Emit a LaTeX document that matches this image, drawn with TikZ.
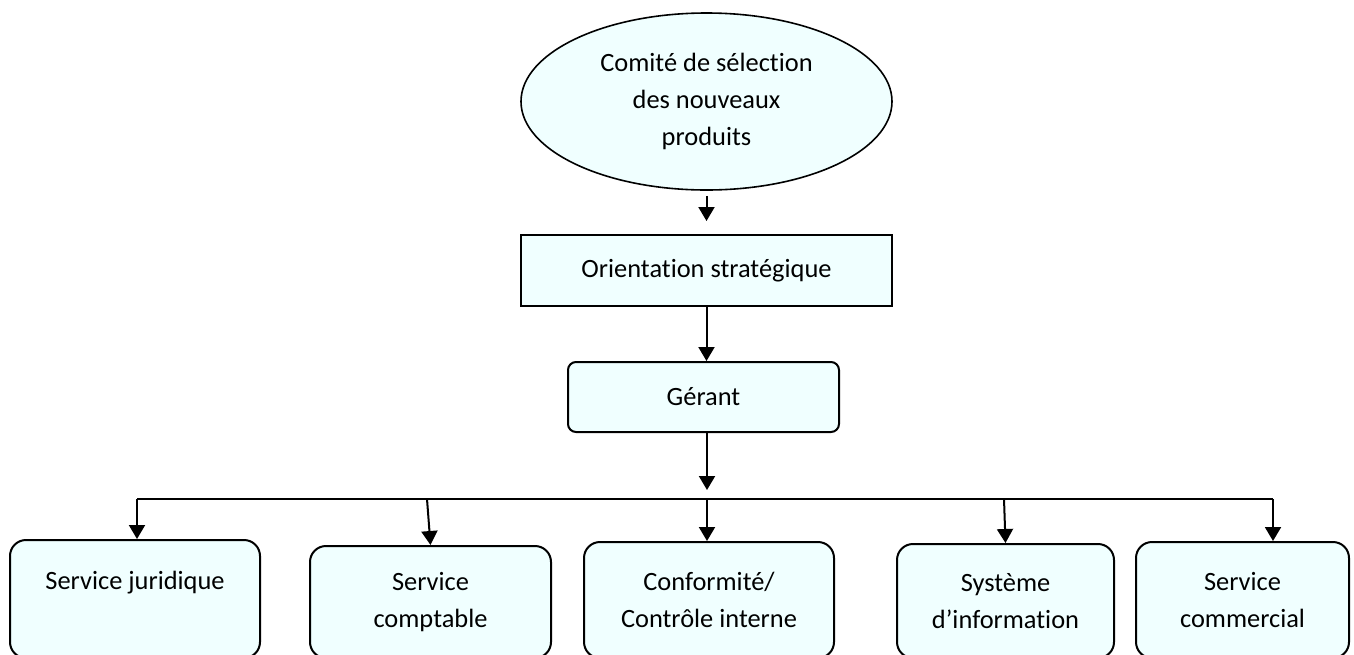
\documentclass[tikz,border=0pt]{standalone}
\usepackage{fontspec}
\setmainfont{Carlito}[Ligatures=NoCommon]
\usepackage{tikz}
\usetikzlibrary{shapes.geometric, arrows.meta, positioning, calc}
\definecolor{paleblue}{RGB}{240, 255, 255}

\begin{document}
\begin{tikzpicture}[x=0.5pt, y=-0.5pt,
    >={Triangle[length=7pt, width=8pt]},
    every node/.style={font=\fontsize{13.2}{18.6}\selectfont, align=center, inner sep=0pt},
    unitbox/.style={draw, line width=1pt, fill=paleblue, rounded corners=8pt},
    link/.style={->, line width=1pt}]
    \useasboundingbox (0,0) rectangle (1354,654);
    % committee and strategy
    \node[ellipse, draw, line width=0.8pt, fill=paleblue, minimum width=185.5pt, minimum height=88.5pt] (comite) at (706.5,101.5) {Comité de sélection\\des nouveaux\\produits};
    \node[draw, line width=1pt, fill=paleblue, minimum width=185.5pt, minimum height=35.5pt] (orient) at (706.5,270.5) {Orientation stratégique};
    \node[unitbox, rounded corners=4pt, minimum width=135.5pt, minimum height=35pt] (gerant) at (703.5,397) {Gérant};
    % services
    \node[unitbox, minimum width=125pt, minimum height=59pt] (juri) at (135,599) {Service juridique\\\mbox{}};
    \node[unitbox, minimum width=120.5pt, minimum height=56pt] (compta) at (430.5,602) {Service\\comptable};
    \node[unitbox, minimum width=125pt, minimum height=58pt] (confo) at (709,600) {Conformité/\\Contrôle interne};
    \node[unitbox, minimum width=108.5pt, minimum height=57pt] (sysinfo) at (1005.5,601) {Système\\d’information};
    \node[unitbox, minimum width=106.5pt, minimum height=58pt] (commer) at (1242.5,600) {Service\\commercial};
    % bus line
    \coordinate (gtip) at (707,490);
    \coordinate (b1) at (137,499);
    \coordinate (b2) at (427,499);
    \coordinate (b3) at (707,499);
    \coordinate (b4) at (1004,499);
    \coordinate (b5) at (1273,499);
    \draw[link] ([yshift=-2.5pt]comite.south) -- ([yshift=6.5pt]orient.north);
    \draw[link] (orient.south) -- (orient.south |- gerant.north);
    \draw[link] (gerant.south -| gtip) -- (gtip);
    \draw[line width=1pt] (b1) -- (b5);
    \draw[link] (b1) -- (b1 |- juri.north);
    \draw[link] (b2) -- (compta.north);
    \draw[link] (b3) -- (b3 |- confo.north);
    \draw[link] (b4) -- (sysinfo.north);
    \draw[link] (b5) -- (b5 |- commer.north);
\end{tikzpicture}
\end{document}
